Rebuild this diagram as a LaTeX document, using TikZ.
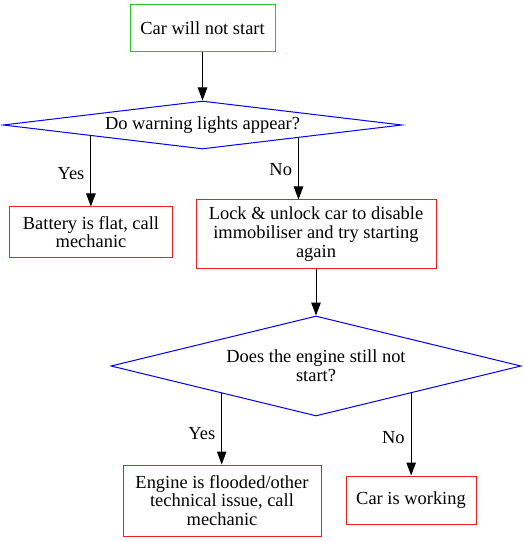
\documentclass[tikz,border=0pt]{standalone}
\usepackage{fontspec}
\setmainfont{Liberation Serif}
\usetikzlibrary{shapes.geometric,arrows.meta,calc}
\definecolor{boxgreen}{RGB}{40,200,40}
\definecolor{boxred}{RGB}{240,30,30}
\begin{document}
\begin{tikzpicture}[x=1bp,y=-1bp,
  every node/.style={font=\fontsize{18.5}{18.8}\selectfont},
  box/.style={draw=boxred,line width=1bp,rectangle,align=center,inner sep=0bp},
  dia/.style={draw=blue,line width=1bp,diamond,align=center,inner sep=0pt},
  arr/.style={draw=black,line width=1bp,-{Triangle[length=13bp,width=9.5bp]}},
  lbl/.style={left,inner sep=0pt,xshift=-6bp}]
\useasboundingbox (0,0) rectangle (525,541);
\node[box,draw=boxgreen,minimum width=145bp,minimum height=47bp] (start) at (202.5,28.5) {Car will not start};
\node[dia,aspect=8.3,minimum width=399bp,minimum height=48bp] (d1) at (202.5,125) {Do warning lights appear?};
\node[box,minimum width=162bp,minimum height=50bp] (bat) at (91,232) {Battery is flat, call\\mechanic};
\node[box,minimum width=240bp,minimum height=68bp] (lock) at (316,234) {Lock \& unlock car to disable\\immobiliser and try starting\\again};
\node[dia,aspect=4.1,minimum width=410bp,minimum height=100bp] (d2) at (316,366) {Does the engine still not\\start?};
\node[box,minimum width=198bp,minimum height=71bp] (eng) at (222,500.5) {Engine is flooded/other\\technical issue, call\\mechanic};
\node[box,minimum width=130bp,minimum height=48bp] (ok) at (411,500) {Car is working};

\coordinate (y1) at ($(d1.west)!0.442!(d1.south)$);
\coordinate (n1) at ($(d1.south)!0.48!(d1.east)$);
\coordinate (y2) at ($(d2.west)!0.541!(d2.south)$);
\coordinate (n2) at ($(d2.south)!0.463!(d2.east)$);

\draw[arr] (start.south) -- (d1.north);
\draw[arr] (y1) -- (y1 |- bat.north) node[lbl,pos=0.54] {Yes};
\draw[arr] (n1) -- (n1 |- lock.north) node[lbl,pos=0.52] {No};
\draw[arr] (lock.south) -- (d2.north);
\draw[arr] (y2) -- (y2 |- eng.north) node[lbl,pos=0.56] {Yes};
\draw[arr] (n2) -- (n2 |- ok.north) node[lbl,pos=0.54] {No};
\end{tikzpicture}
\end{document}
